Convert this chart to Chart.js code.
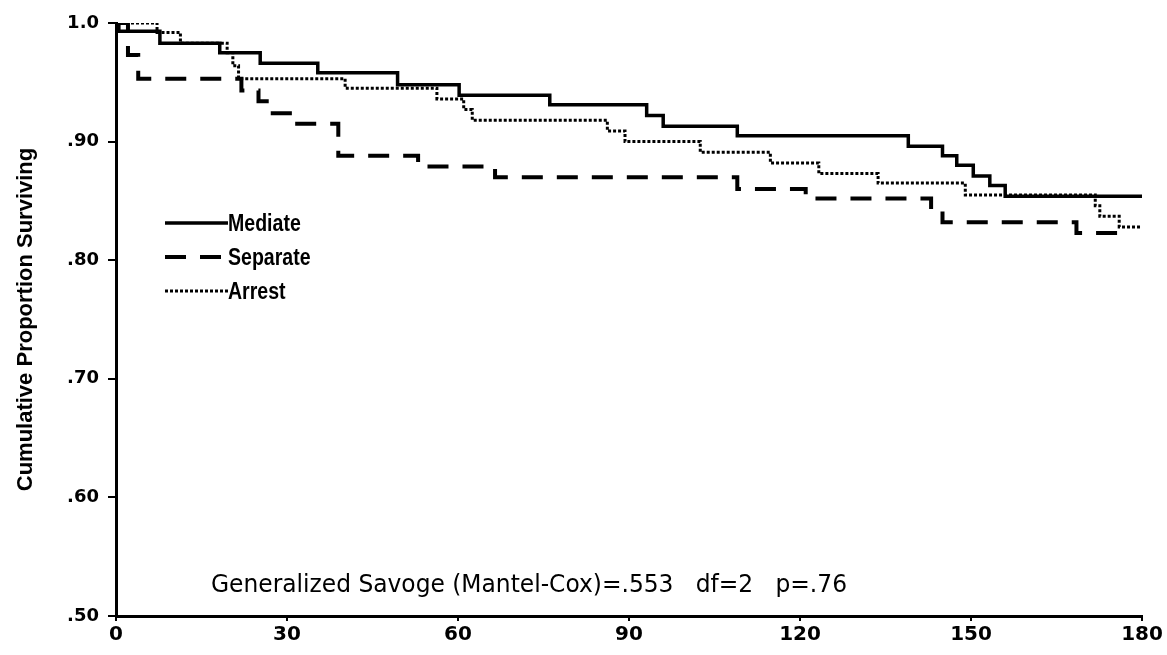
<!DOCTYPE html>
<html>
<head>
<meta charset="utf-8">
<script src="https://cdn.jsdelivr.net/npm/chart.js@4.4.1/dist/chart.umd.min.js"></script>
<style>
  html, body { margin: 0; padding: 0; background: #fff; }
  #wrap { width: 1167px; height: 655px; }
</style>
</head>
<body>
<div id="wrap"><canvas id="c" width="1167" height="655"></canvas></div>
<script>
// ---- data ----
const seriesNames = ['Mediate', 'Separate', 'Arrest'];

const mediateT = [0, 0.5, 7.7, 18.2, 25.3, 35.4, 49.4, 60.2, 76.1, 93.1, 96.0, 109.0, 139.0, 145.0, 147.5, 150.4, 153.3, 156.0, 180];
const mediateS = [1.0, 0.993, 0.983, 0.975, 0.966, 0.958, 0.948, 0.939, 0.931, 0.922, 0.913, 0.905, 0.896, 0.888, 0.880, 0.871, 0.863, 0.854, 0.854];

const separateT = [0, 2.1, 3.9, 22.0, 25.0, 27.5, 31.0, 39.0, 53.0, 66.5, 109.0, 121.0, 143.0, 145.0, 168.5, 178];
const separateS = [1.0, 0.973, 0.953, 0.943, 0.934, 0.924, 0.915, 0.888, 0.879, 0.870, 0.860, 0.852, 0.842, 0.832, 0.823, 0.823];

const arrestT = [0, 7.2, 11.3, 19.5, 20.5, 21.5, 40.2, 56.3, 61.0, 62.5, 86.2, 89.3, 102.5, 114.8, 123.3, 133.7, 149.0, 171.8, 172.6, 176.0, 180];
const arrestS = [1.0, 0.992, 0.983, 0.975, 0.964, 0.953, 0.945, 0.936, 0.927, 0.918, 0.909, 0.900, 0.891, 0.882, 0.873, 0.865, 0.855, 0.846, 0.837, 0.828, 0.828];

const xTicks = [0, 30, 60, 90, 120, 150, 180];
const yTicks = [0.5, 0.6, 0.7, 0.8, 0.9, 1.0];
const yTickLabels = ['.50', '.60', '.70', '.80', '.90', '1.0'];

const yTitle = 'Cumulative Proportion Surviving';
const noteText = 'Generalized Savoge (Mantel-Cox)=.553   df=2   p=.76';

// ---- helpers ----
function pts(ts, ss) { return ts.map((t, i) => ({ x: t, y: ss[i] })); }

const styles = [
  { borderDash: [], borderWidth: 3.5 },
  { borderDash: [21, 14], borderWidth: 4 },
  { borderDash: [3, 2], borderWidth: 3 }
];

const datasets = [
  pts(mediateT, mediateS),
  pts(separateT, separateS),
  pts(arrestT, arrestS)
].map((d, i) => ({
  label: seriesNames[i],
  data: d,
  borderColor: '#000',
  backgroundColor: '#000',
  borderWidth: styles[i].borderWidth,
  borderDash: styles[i].borderDash,
  stepped: 'before',
  pointRadius: 0,
  fill: false,
  tension: 0
}));

const boldFamily = '"Liberation Sans", Arial, sans-serif';

// custom in-plot legend and annotation
const overlayPlugin = {
  id: 'overlay',
  afterDatasetsDraw(chart) {
    const ctx = chart.ctx;
    ctx.save();
    // legend
    const rowsY = [223, 257, 291];
    chart.data.datasets.forEach((ds, i) => {
      const y = rowsY[i];
      ctx.beginPath();
      ctx.setLineDash(ds.borderDash);
      ctx.lineWidth = ds.borderWidth;
      ctx.strokeStyle = '#000';
      ctx.moveTo(165, y);
      ctx.lineTo(228, y);
      ctx.stroke();
      ctx.setLineDash([]);
      ctx.save();
      ctx.fillStyle = '#000';
      ctx.font = 'bold 23px ' + boldFamily;
      ctx.textBaseline = 'middle';
      ctx.textAlign = 'left';
      ctx.translate(228, y + 2);
      ctx.scale(0.85, 1);
      ctx.fillText(ds.label, 0, 0);
      ctx.restore();
    });
    // annotation
    ctx.fillStyle = '#000';
    ctx.font = '25px "DejaVu Sans", sans-serif';
    ctx.textBaseline = 'alphabetic';
    ctx.textAlign = 'left';
    const w = ctx.measureText(noteText).width;
    const target = 636;
    ctx.translate(211, 592);
    ctx.scale(target / w, 1);
    ctx.fillText(noteText, 0, 0);
    ctx.restore();
  }
};

new Chart(document.getElementById('c'), {
  type: 'line',
  data: { datasets },
  options: {
    responsive: false,
    animation: false,
    devicePixelRatio: 1,
    layout: { padding: { top: 23, right: 25, left: 0, bottom: 0 } },
    plugins: { legend: { display: false }, tooltip: { enabled: false } },
    scales: {
      x: {
        type: 'linear',
        min: 0, max: 180,
        afterBuildTicks(scale) { scale.ticks = xTicks.map(v => ({ value: v })); },
        afterFit(scale) { scale.height = 39; },
        border: { display: true, color: '#000', width: 3 },
        grid: { display: true, drawOnChartArea: false, drawTicks: true, tickLength: 5, color: '#000', lineWidth: 2 },
        ticks: {
          color: '#000',
          padding: 2,
          maxRotation: 0,
          font: { family: '"DejaVu Sans", sans-serif', weight: 'bold', size: 20 },
          callback: (v) => String(v)
        }
      },
      y: {
        type: 'linear',
        min: 0.5, max: 1.0,
        afterBuildTicks(scale) { scale.ticks = yTicks.map(v => ({ value: v })); },
        afterFit(scale) { scale.width = 116; },
        border: { display: true, color: '#000', width: 3 },
        grid: { display: true, drawOnChartArea: false, drawTicks: true, tickLength: 8, color: '#000', lineWidth: 2 },
        ticks: {
          color: '#000',
          padding: 9,
          font: { family: '"DejaVu Sans", sans-serif', weight: 'bold', size: 18 },
          callback: (v) => {
            const idx = yTicks.findIndex(t => Math.abs(t - v) < 1e-6);
            return idx >= 0 ? yTickLabels[idx] : '';
          }
        },
        title: {
          display: true,
          text: yTitle,
          color: '#000',
          padding: { top: 13, bottom: 0 },
          font: { family: boldFamily, weight: 'bold', size: 22 }
        }
      }
    }
  },
  plugins: [overlayPlugin]
});
</script>
</body>
</html>
